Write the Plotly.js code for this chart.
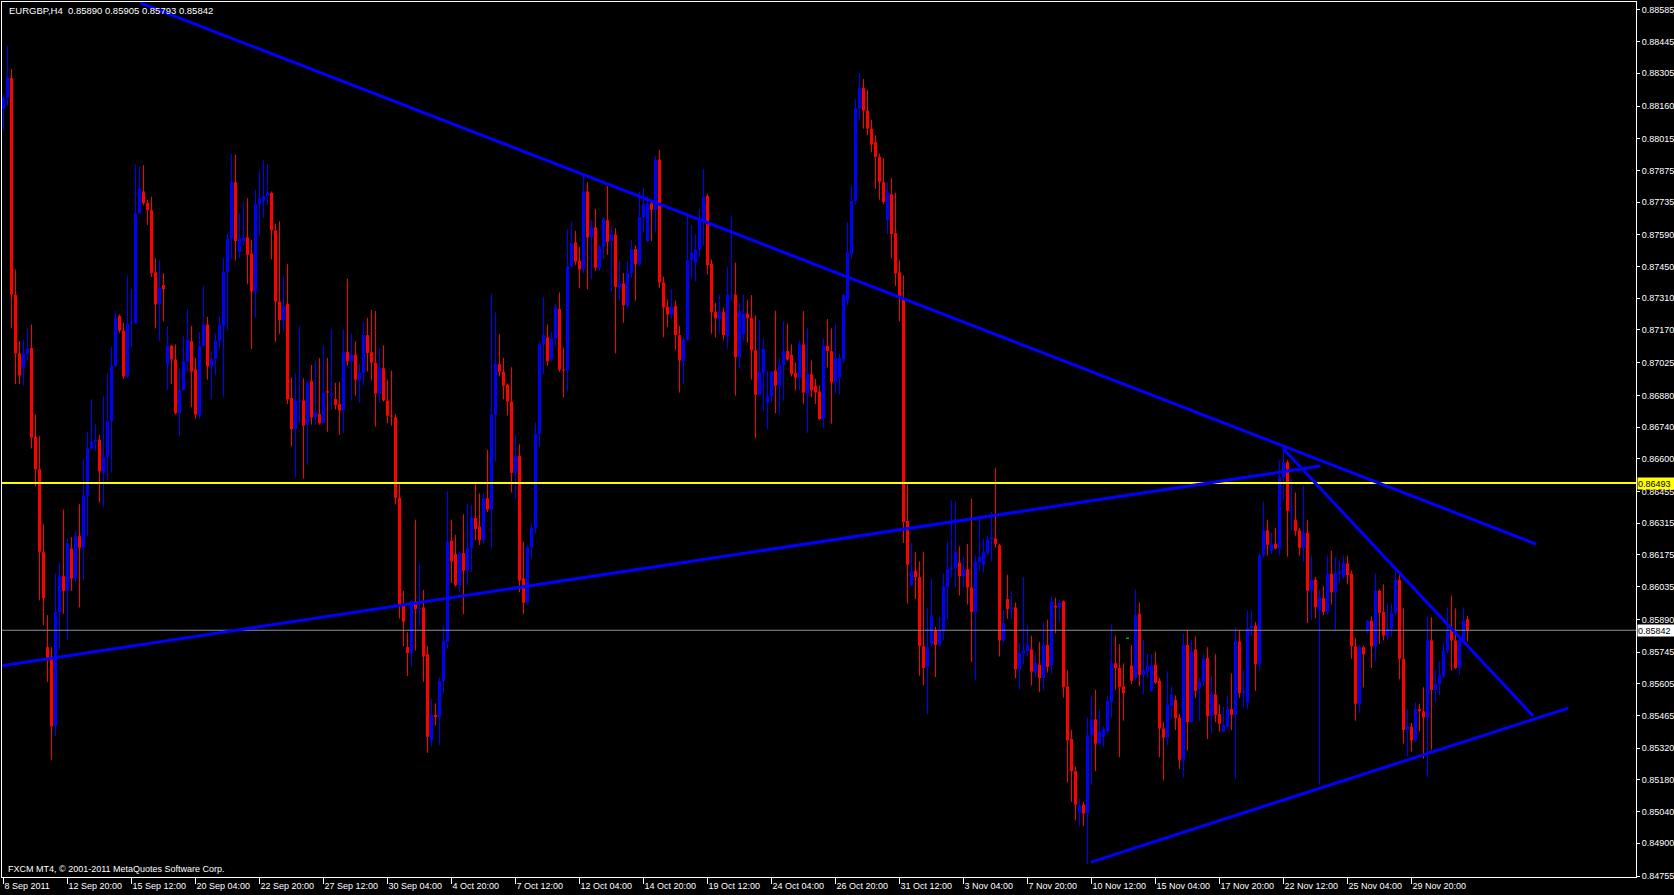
<!DOCTYPE html>
<html>
<head>
<meta charset="utf-8">
<script src="https://cdn.plot.ly/plotly-3.0.1.min.js"></script>
<style>html,body{margin:0;padding:0;background:#000;}#chart{width:1674px;height:895px;}</style>
</head>
<body>
<div id="chart"></div>
<script>
// EURGBP H4 bars, prices in points (1 point = 0.00001)
const openPts = [88148,88197,88284,87326,87066,86999,87066,87090,86698,86554,
86187,85767,85726,85417,85923,86081,86016,86203,86071,86258,
86207,86437,86646,86676,86684,86538,86609,86765,87011,87232,
87167,86964,87198,87198,87685,87782,87732,87699,87425,87283,
87368,87015,87100,87039,86802,86903,87031,87120,86995,86792,
87100,87194,87009,87041,87122,87189,87427,87573,87823,87514,
87563,87579,87508,87340,87725,87741,87762,87776,87610,87295,
87214,87285,86869,86731,86852,86858,86751,86944,86783,86798,
86757,86899,86879,86865,86842,86814,87072,87031,87061,86946,
86980,87147,87072,87025,86889,87001,86858,86791,86783,86428,
85951,85768,85742,85971,85935,85943,85736,85355,85468,85458,
85618,85791,86238,86180,86041,86183,86106,86207,86339,86301,
86240,86426,86376,86796,87019,86985,86928,86853,86538,86613,
86071,85964,86209,86294,86711,87106,87137,87040,87133,87263,
86995,86991,87452,87557,87476,87437,87782,87579,87624,87445,
87539,87655,87563,87592,87360,87376,87279,87421,87527,87462,
87669,87563,87730,87701,87923,87380,87273,87238,87275,87147,
87031,87127,87478,87466,87527,87655,87762,87462,87249,87218,
87249,87141,87324,87326,87050,87150,87242,87222,87080,86883,
86979,86849,86877,86991,86924,87015,87076,87060,86979,86960,
87106,86889,86974,86924,86897,86776,87100,87076,86938,86960,
87040,87299,87507,87740,88150,88240,88140,88060,88000,87935,
87823,87655,87770,87598,87425,87310,86325,86041,86106,86077,
85771,85680,85781,85842,85777,85838,86031,86112,86118,86142,
86081,86112,86031,85923,86142,86132,86183,86244,86248,86218,
85797,85980,85935,85943,85669,85740,85751,85757,85655,85690,
85631,85777,85686,85950,85943,85970,85594,85361,85219,85036,
85071,85032,85377,85448,85341,85371,85395,85523,85696,85675,
85594,85807,85686,85631,85915,85645,85659,85574,85690,85619,
85408,85367,85509,85533,85456,85269,85777,85436,85757,85584,
85615,85720,85462,85558,85472,85395,85416,85493,85468,85793,
85564,85523,85852,85862,85692,86173,86284,86193,86224,86203,
86518,86585,86370,86329,86284,86207,86274,86017,86065,85929,
85984,85923,86092,86010,86092,86077,86138,86092,85771,85517,
85767,85842,85883,85771,86017,85923,85818,85848,85919,86065,
85716,85401,85416,85355,85493,85483,85456,85797,85578,85604,
85639,85751,85838,85797,85675,85797,85890];
const highPts = [88213,88426,88324,87437,87121,87127,87177,87194,86796,86700,
86311,85909,85767,86091,86142,86376,86248,86254,86280,86400,
86599,86721,86863,86755,86705,86877,86979,87096,87255,87238,
87202,87411,87350,87902,87892,87898,87746,87760,87486,87478,
87421,87188,87104,87106,86999,87141,87263,87188,87046,87161,
87364,87228,87076,87153,87230,87488,87599,87949,87944,87685,
87737,87752,87569,87788,87878,87920,87904,87782,87640,87650,
87411,87461,86960,86980,87189,86956,86946,87015,87031,87045,
87102,87047,87173,86936,86940,87173,87396,87153,87120,87021,
87204,87224,87258,87254,87088,87102,86950,86990,86798,86487,
86016,85833,85975,86331,86138,86020,85773,85537,85519,85635,
85862,86457,86331,86264,86187,86355,86400,86396,86487,86447,
86447,86640,87330,87249,87151,87046,86934,87005,86705,86664,
86234,86219,86315,86761,87117,87316,87194,87161,87283,87336,
87092,87614,87648,87608,87537,87851,87821,87655,87705,87547,
87669,87807,87630,87620,87476,87421,87476,87567,87543,87782,
87797,87762,87746,87939,87965,87405,87305,87350,87299,87188,
87137,87675,87634,87594,87705,87882,87772,87482,87289,87324,
87269,87447,87671,87468,87289,87324,87303,87324,87234,87212,
87133,86989,86989,87255,87046,87208,87198,87106,87025,87123,
87253,87177,87035,86954,86924,87133,87218,87177,87198,87066,
87330,87645,87807,88190,88306,88280,88230,88100,88030,87949,
87929,87823,87842,87777,87478,87411,86487,86228,86189,86146,
86189,85939,86071,85858,85899,86092,86234,86416,86412,86213,
86167,86224,86423,86173,86335,86244,86260,86366,86559,86224,
85929,86088,86017,85964,85787,86077,85862,85818,85740,85791,
85878,85889,85994,85986,85974,85974,85665,85401,85239,85097,
85083,85456,85554,85578,85493,85416,85554,85868,85818,85781,
85696,85807,85777,86021,85964,85801,85740,85736,85747,85631,
85436,85661,85594,85554,85472,85828,85842,85801,85814,85631,
85736,85767,85639,85736,85513,85503,85554,85651,85854,85842,
85665,85929,85929,85878,86183,86410,86329,86274,86295,86593,
86646,86593,86512,86451,86295,86483,86329,86173,86077,86021,
86037,86173,86193,86167,86153,86173,86173,86106,85807,85777,
85775,85889,85903,86092,86021,86045,85960,85960,86102,86086,
85939,85493,85432,85523,85517,85590,85903,85899,85665,85706,
85787,85943,85996,85939,85822,85943,85905];
const lowPts = [88054,88162,87177,86930,86930,86924,87035,86646,86477,85974,
85864,85614,85269,85375,85756,85915,85801,86016,86055,85943,
86065,86258,86640,86633,86406,86386,86504,86538,87005,87157,
86954,86960,87092,87198,87685,87722,87634,87405,87177,87121,
87208,86903,86930,86796,86700,86903,86985,86828,86776,86776,
87096,86950,86863,86970,87088,86873,87169,87482,87478,87488,
87543,87372,87086,87224,87583,87666,87721,87482,87116,87153,
87163,86842,86655,86519,86761,86513,86574,86751,86751,86751,
86757,86720,86818,86818,86706,86716,87011,86858,86879,86848,
86925,86986,86946,86743,86848,86854,86757,86747,86398,85894,
85772,85640,85681,85752,85858,85614,85300,85330,85422,85334,
85564,85761,86051,86035,86010,85913,86041,86098,86240,86219,
86223,86365,86203,86589,86964,86863,86792,86451,86422,86010,
85913,85955,86162,86270,86654,86974,87011,87030,87100,86985,
86873,86899,87445,87458,87354,87421,87350,87395,87431,87431,
87486,87502,87336,87066,87299,87202,87269,87401,87299,87455,
87604,87559,87563,87600,87356,87137,87182,87218,87080,86893,
86930,87121,87401,87385,87492,87543,87415,87153,87137,87157,
87127,87086,87299,86879,86999,87121,87113,86950,86690,86879,
86812,86731,86849,86802,86796,86857,87035,86964,86903,86903,
86843,86715,86873,86843,86771,86735,87005,86755,86889,86883,
87025,87279,87486,87725,88100,88060,88030,87955,87793,87746,
87726,87594,87486,87364,87208,86228,85960,86037,85980,85641,
85598,85472,85770,85635,85767,85797,85889,86077,86031,85996,
86031,85956,85702,85621,86106,86098,86173,86146,86207,85726,
85787,85893,85889,85629,85580,85690,85726,85598,85635,85568,
85578,85655,85649,85828,85878,85544,85168,85083,85002,84975,
84975,84810,85158,85219,85334,85326,85387,85456,85578,85280,
85442,85807,85604,85619,85594,85558,85631,85570,85604,85280,
85178,85334,85448,85401,85229,85192,85310,85432,85544,85442,
85598,85361,85387,85436,85395,85391,85408,85401,85184,85544,
85503,85493,85818,85574,85665,86163,86173,86179,86199,86173,
86416,86167,86284,86260,86173,86146,85874,85889,85895,85158,
85909,85909,85956,85838,86051,86071,86045,85716,85442,85477,
85590,85828,85675,85706,85781,85797,85801,85814,85909,85625,
85341,85286,85306,85347,85395,85274,85192,85314,85523,85554,
85631,85740,85665,85671,85645,85793,85793];
const closePts = [88197,88284,87326,87066,86968,87066,87086,86694,86554,86189,
85984,85720,85417,85923,86081,86016,86227,86071,86258,86207,
86437,86646,86676,86684,86544,86609,86765,87011,87224,87167,
86964,87198,87204,87685,87797,87730,87699,87421,87283,87356,
87350,87100,87039,86802,86903,87031,87127,86985,86796,87100,
87194,87009,87039,87122,87193,87427,87573,87823,87563,87575,
87579,87502,87340,87725,87752,87762,87776,87610,87295,87214,
87275,86863,86731,86858,86858,86747,86934,86783,86804,86757,
86893,86893,86889,86838,86814,87072,87031,87061,86950,86980,
87147,87068,87025,86889,87001,86858,86791,86787,86428,85951,
85880,85742,85971,85935,85941,85726,85371,85468,85458,85618,
85793,86234,86146,86041,86183,86106,86207,86339,86290,86240,
86426,86376,86796,87019,86985,86924,86853,86538,86613,86061,
85964,86209,86294,86711,87106,87147,87031,87133,87269,86995,
86991,87452,87553,87472,87437,87782,87579,87624,87445,87539,
87661,87559,87592,87360,87376,87279,87421,87527,87462,87669,
87726,87730,87701,87923,87380,87269,87238,87273,87147,87035,
87127,87478,87512,87527,87655,87756,87456,87249,87222,87249,
87147,87324,87326,87050,87253,87242,87222,87080,86883,86985,
87086,86877,86985,86924,87015,87076,87039,86974,86960,87106,
86893,86974,86903,86893,86776,87100,87076,86938,87046,87046,
87324,87513,87740,88150,88240,88140,88060,87990,87935,87823,
87736,87777,87594,87421,87310,86321,86132,86102,86077,85771,
85675,85767,85905,85777,85842,86037,86112,86118,86187,86081,
86112,86031,85923,86146,86167,86187,86244,86254,86224,85797,
85872,85935,85943,85669,85740,85751,85777,85659,85696,85631,
85777,85680,85970,85943,85964,85590,85355,85219,85071,85066,
85032,85377,85448,85341,85395,85406,85529,85696,85675,85590,
85564,85807,85619,85909,85645,85665,85686,85686,85611,85408,
85367,85513,85558,85452,85269,85777,85436,85747,85574,85615,
85716,85462,85558,85468,85428,85422,85493,85468,85793,85564,
85574,85852,85862,85692,86173,86284,86220,86224,86203,86518,
86585,86370,86376,86280,86207,86274,86017,86065,85943,85990,
85923,86092,86010,86096,86102,86138,86086,85771,85517,85767,
85736,85883,85771,86017,85919,85818,85848,85919,86065,85716,
85401,85416,85355,85493,85483,85456,85797,85578,85604,85645,
85751,85838,85797,85675,85797,85883,85842];

// x-axis labels (every 16th H4 bar)
const xTickBars = [0,16,32,48,64,80,96,112,128,144,160,176,192,208,224,240,256,272,288,304,320,336,352];
const xTickText = ["8 Sep 2011","12 Sep 20:00","15 Sep 12:00","20 Sep 04:00","22 Sep 20:00","27 Sep 12:00","30 Sep 04:00","4 Oct 20:00","7 Oct 12:00","12 Oct 04:00","14 Oct 20:00","19 Oct 12:00","24 Oct 04:00","26 Oct 20:00","31 Oct 12:00","3 Nov 04:00","7 Nov 20:00","10 Nov 12:00","15 Nov 04:00","17 Nov 20:00","22 Nov 12:00","25 Nov 04:00","29 Nov 20:00"];
// price scale labels
const yTickVals = [0.88585,0.88445,0.88305,0.88160,0.88015,0.87875,0.87735,0.87590,0.87450,0.87310,0.87170,0.87025,0.86880,0.86740,0.86600,0.86455,0.86315,0.86175,0.86035,0.85890,0.85745,0.85605,0.85465,0.85320,0.85180,0.85040,0.84900,0.84755];

// horizontal levels
const levelPrice = 0.86493;
const bidPrice = 0.85842;
// trend lines: [bar index, price] endpoints
const trendStartBar = [34.2, -0.4, 319.9, 271.9];
const trendStartPrice = [0.88616, 0.85685, 0.86646, 0.84817];
const trendEndBar = [383.2, 329.2, 382.4, 391.2];
const trendEndPrice = [0.86223, 0.86568, 0.85463, 0.85498];

const header = "EURGBP,H4\u00a0\u00a00.85890 0.85905 0.85793 0.85842";
const footer = "FXCM MT4, \u00a9 2001-2011 MetaQuotes Software Corp.";

const PT = 0.00001;
const yRange = [0.84751, 0.88620];
const minBody = (yRange[1]-yRange[0]) / 875;
const BULL = '#0000FF', BEAR = '#FF0000', DOJI = '#00FF00';

const xs = [], bases = [], heights = [], colors = [];
const wick = {}; wick[BULL] = {x:[],y:[]}; wick[BEAR] = {x:[],y:[]}; wick[DOJI] = {x:[],y:[]};
for (let i = 0; i < openPts.length; i++) {
  const o = openPts[i]*PT, h = highPts[i]*PT, l = lowPts[i]*PT, c = closePts[i]*PT;
  const col = c > o ? BULL : (c < o ? BEAR : DOJI);
  let lo = Math.min(o,c), hi = Math.max(o,c), ht = hi - lo;
  if (ht < minBody) { const m = (lo+hi)/2; lo = m - minBody/2; ht = minBody; }
  xs.push(i); bases.push(lo); heights.push(ht); colors.push(col);
  const w = wick[col];
  w.x.push(i, i, null);
  w.y.push(Math.max(h,o,c), Math.min(l,o,c), null);
}

const traces = [];
[BULL, BEAR, DOJI].forEach(col => {
  traces.push({type:'scatter', mode:'lines', x:wick[col].x, y:wick[col].y,
    line:{color:col, width:1}, hoverinfo:'skip', connectgaps:false});
});
traces.push({type:'bar', x:xs, y:heights, base:bases, width:0.75,
  marker:{color:colors, line:{width:0}}, hoverinfo:'skip'});

const shapes = [
  {type:'line', xref:'paper', x0:0, x1:1, yref:'y', y0:bidPrice, y1:bidPrice, line:{color:'#8a8f96', width:1}},
  {type:'line', xref:'paper', x0:0, x1:1, yref:'y', y0:levelPrice, y1:levelPrice, line:{color:'#FFFF00', width:2}}
];
for (let k = 0; k < trendStartBar.length; k++) {
  shapes.push({type:'line', xref:'x', yref:'y', x0:trendStartBar[k], y0:trendStartPrice[k],
    x1:trendEndBar[k], y1:trendEndPrice[k], line:{color:'#0000FF', width:3}});
}

const FONT = 'Liberation Sans, Arial, sans-serif';
const annotations = [
  {xref:'paper', yref:'paper', x:5/1634, y:1-9/875, xanchor:'left', yanchor:'middle', showarrow:false,
   text:header, font:{family:FONT, size:9.5, color:'#FFFFFF'}},
  {xref:'paper', yref:'paper', x:4/1634, y:1-867/875, xanchor:'left', yanchor:'middle', showarrow:false,
   text:footer, font:{family:FONT, size:9, color:'#FFFFFF'}},
  {xref:'paper', yref:'y', x:1, y:levelPrice, xanchor:'left', yanchor:'middle', xshift:1, showarrow:false,
   text:levelPrice.toFixed(5), bgcolor:'#FFFF00', borderpad:0, width:37, height:11, align:'left',
   font:{family:FONT, size:9, color:'#000000'}},
  {xref:'paper', yref:'y', x:1, y:bidPrice, xanchor:'left', yanchor:'middle', xshift:1, showarrow:false,
   text:bidPrice.toFixed(5), bgcolor:'#FFFFFF', borderpad:0, width:37, height:11, align:'left',
   font:{family:FONT, size:9, color:'#000000'}}
];

const layout = {
  width:1674, height:895, autosize:false,
  paper_bgcolor:'#000000', plot_bgcolor:'#000000',
  margin:{l:2, r:38, t:2, b:18, pad:0},
  showlegend:false, hovermode:false, barmode:'overlay',
  font:{family:FONT, size:9, color:'#FFFFFF'},
  xaxis:{range:[-0.375, 408.125], showgrid:false, zeroline:false, showline:true, mirror:true,
    linecolor:'#FFFFFF', linewidth:1, ticks:'outside', ticklen:6, tickcolor:'#FFFFFF', tickwidth:1,
    tickmode:'array', tickvals:xTickBars, ticktext:xTickText, ticklabelposition:'outside right',
    tickfont:{family:FONT, size:9, color:'#FFFFFF'}, fixedrange:true, automargin:false},
  yaxis:{range:yRange, side:'right', showgrid:false, zeroline:false, showline:true, mirror:true,
    linecolor:'#FFFFFF', linewidth:1, ticks:'outside', ticklen:3, tickcolor:'#FFFFFF', tickwidth:1,
    tickmode:'array', tickvals:yTickVals, ticktext:yTickVals.map(v => v.toFixed(5)),
    tickfont:{family:FONT, size:9, color:'#FFFFFF'}, fixedrange:true, automargin:false},
  shapes:shapes, annotations:annotations
};

Plotly.newPlot('chart', traces, layout, {staticPlot:true, displayModeBar:false});
</script>
</body>
</html>
